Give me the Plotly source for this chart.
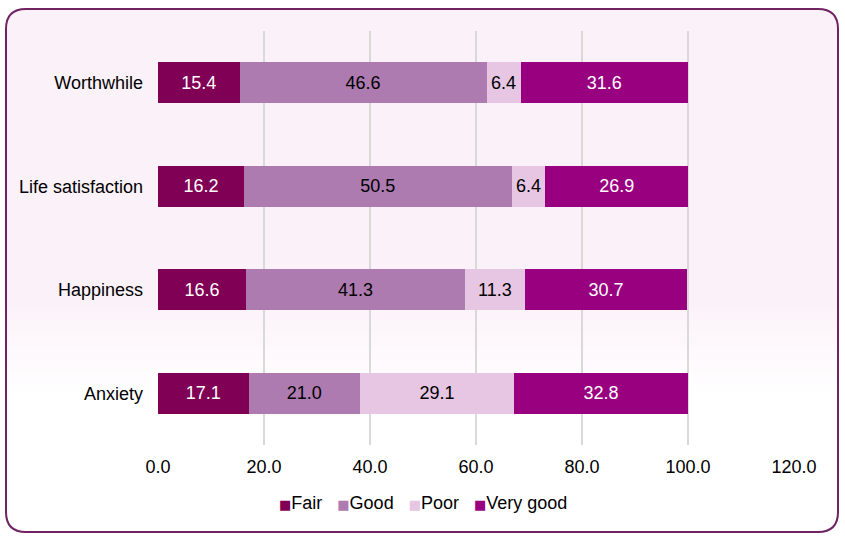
import plotly.graph_objects as go

# Dane
CATEGORIES = ["Worthwhile", "Life satisfaction", "Happiness", "Anxiety"]
FAIR = [15.4, 16.2, 16.6, 17.1]
GOOD = [46.6, 50.5, 41.3, 21.0]
POOR = [6.4, 6.4, 11.3, 29.1]
VERY_GOOD = [31.6, 26.9, 30.7, 32.8]
X_TICKS = [0, 20, 40, 60, 80, 100, 120]

W, H = 845, 539
FONT = "Liberation Sans, Arial, sans-serif"
PINK = (251, 241, 248)


def px(x, y):
    # piksele -> współrzędne paper (marginesy = 0)
    return x / W, 1 - y / H


def rounded_path(x0, y0, x1, y1, r):
    def p(x, y):
        a, b = px(x, y)
        return f"{a:.5f},{b:.5f}"
    pts = [
        "M " + p(x0 + r, y0),
        "L " + p(x1 - r, y0),
        "Q " + p(x1, y0) + " " + p(x1, y0 + r),
        "L " + p(x1, y1 - r),
        "Q " + p(x1, y1) + " " + p(x1 - r, y1),
        "L " + p(x0 + r, y1),
        "Q " + p(x0, y1) + " " + p(x0, y1 - r),
        "L " + p(x0, y0 + r),
        "Q " + p(x0, y0) + " " + p(x0 + r, y0),
    ]
    return " ".join(pts) + " Z"


series = [
    ("Fair", FAIR, "#7f0055", "white"),
    ("Good", GOOD, "#ad7bb0", "black"),
    ("Poor", POOR, "#e6c6e3", "black"),
    ("Very good", VERY_GOOD, "#990080", "white"),
]

fig = go.Figure()
for name, vals, color, tcolor in series:
    fig.add_trace(go.Bar(
        name=name, y=CATEGORIES, x=vals, orientation="h",
        marker=dict(color=color, line=dict(width=0)),
        text=[f"{v:.1f}" for v in vals], textposition="inside",
        insidetextanchor="middle", textangle=0, constraintext="none",
        textfont=dict(color=tcolor, size=18, family=FONT),
        hoverinfo="skip", showlegend=False,
    ))

# legenda jako jedna adnotacja (kompaktowe odstępy jak w oryginale)
legend_parts = []
for name, _, color, _ in series:
    legend_parts.append(
        f"<span style='color:{color};font-size:13px;font-family:DejaVu Sans'>■</span>{name}")
fig.add_annotation(
    xref="paper", yref="paper", x=0.5, y=1 - 503 / H,
    xanchor="center", yanchor="middle", showarrow=False,
    text="&nbsp;&nbsp;&nbsp;".join(legend_parts),
    font=dict(size=18, family=FONT, color="black"),
)

# tło z gradientem i zaokrągloną ramką
BX0, BY0, BX1, BY1, R = 6, 9, 838, 532, 20
shapes = [dict(type="path", xref="paper", yref="paper", layer="below",
               path=rounded_path(BX0, BY0, BX1, BY1, R),
               fillcolor="rgb(%d,%d,%d)" % PINK, line=dict(width=0))]
g0, g1, n = 295, 395, 25
for i in range(n):
    ya = g0 + (g1 - g0) * i / n
    yb = g0 + (g1 - g0) * (i + 1) / n
    t = (i + 0.5) / n
    c = tuple(round(PINK[k] + (255 - PINK[k]) * t) for k in range(3))
    xa, ya_p = px(BX0 + 1, ya)
    xb, yb_p = px(BX1 - 1, yb + 0.5)
    shapes.append(dict(type="rect", xref="paper", yref="paper", layer="below",
                       x0=xa, x1=xb, y0=yb_p, y1=ya_p,
                       fillcolor="rgb(%d,%d,%d)" % c, line=dict(width=0)))
xa, ya_p = px(BX0 + 1, g1)
xb, yb_p = px(BX1 - 1, BY1 - 1)
shapes.append(dict(type="rect", xref="paper", yref="paper", layer="below",
                   x0=xa, x1=xb, y0=yb_p, y1=ya_p,
                   fillcolor="white", line=dict(width=0)))
shapes.append(dict(type="path", xref="paper", yref="paper", layer="above",
                   path=rounded_path(BX0, BY0, BX1, BY1, R),
                   fillcolor="rgba(0,0,0,0)", line=dict(color="#6f2363", width=2)))

x_dom = [158 / W, 794 / W]
y_dom = [1 - 445 / H, 1 - 31 / H]

fig.update_layout(
    width=W, height=H, autosize=False,
    margin=dict(l=0, r=0, t=0, b=0, autoexpand=False),
    paper_bgcolor="white", plot_bgcolor="rgba(0,0,0,0)",
    barmode="stack", bargap=0.6,
    font=dict(family=FONT, size=18, color="black"),
    shapes=shapes,
    xaxis=dict(domain=x_dom, range=[0, 120], tickvals=X_TICKS,
               ticktext=[f"{v:.1f}" for v in X_TICKS],
               showgrid=True, gridcolor="#d9d9d9", gridwidth=2,
               zeroline=False, showline=False, ticks="",
               ticklabelstandoff=9, fixedrange=True, automargin=False),
    yaxis=dict(domain=y_dom, categoryorder="array",
               categoryarray=CATEGORIES[::-1], showgrid=False,
               zeroline=False, showline=False, ticks="",
               ticklabelstandoff=14, fixedrange=True, automargin=False),
)

fig.write_html(
    "out.html",
    config={"displayModeBar": False, "responsive": False},
    post_script="document.body.style.margin='0';document.body.style.overflow='hidden';",
)
